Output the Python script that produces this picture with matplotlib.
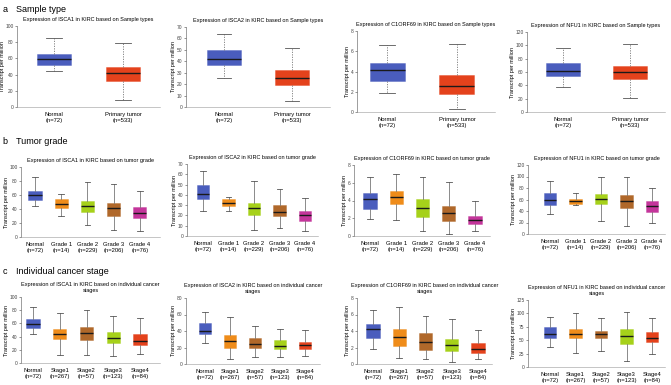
import matplotlib
matplotlib.use("Agg")
import matplotlib.pyplot as plt
import numpy as np

plt.rcParams['font.family'] = ['Liberation Sans', 'DejaVu Sans']

# box stats: [whisker low, q1, median, q3, whisker high]
sample_labels = ["Normal\n(n=72)", "Primary tumor\n(n=533)"]
grade_labels = ["Normal\n(n=72)", "Grade 1\n(n=14)", "Grade 2\n(n=229)", "Grade 3\n(n=206)", "Grade 4\n(n=76)"]
stage_labels = ["Normal\n(n=72)", "Stage1\n(n=267)", "Stage2\n(n=57)", "Stage3\n(n=123)", "Stage4\n(n=84)"]

isca1_sample = [[44, 52, 59, 65, 85], [9, 32, 42, 49, 79]]
isca2_sample = [[25, 36.4, 41.7, 50.3, 64], [5.5, 19.4, 25.2, 32, 52]]
c1orf69_sample = [[1.9, 3.06, 4.15, 4.87, 6.6], [0.33, 1.74, 2.57, 3.7, 6.7]]
nfu1_sample = [[37, 53.3, 61.3, 73.9, 95.5], [21, 49.7, 59.3, 69.3, 102]]

isca1_grade = [[44, 52.8, 60, 66, 86], [30.7, 42, 47, 55, 61], [17.5, 36.3, 44.3, 52, 78],
               [10.4, 30.7, 42, 49, 76.4], [8, 27, 34, 42.5, 66]]
isca2_grade = [[24.2, 35.7, 40.9, 49.7, 63.5], [24.2, 29.4, 32.4, 36, 38.3], [6.2, 20.9, 27.5, 32.4, 53.6],
               [7.9, 19.3, 22.9, 30, 45.5], [4.6, 15, 20.9, 24.2, 36.6]]
c1orf69_grade = [[1.88, 3.04, 4.17, 4.9, 6.6], [1.8, 3.6, 4.36, 5.07, 6.95], [0.6, 2.18, 3.12, 4.13, 6.7],
                 [0.23, 1.69, 2.63, 3.38, 6.13], [0.6, 1.35, 1.8, 2.26, 3.95]]
nfu1_grade = [[35, 51, 59, 72, 92], [50, 52, 58, 61, 72], [22, 52, 61, 70, 100],
              [14, 46, 57, 67, 100], [19, 37.5, 48, 57, 80]]

isca1_stage = [[44.4, 53, 59.6, 66, 85], [12.6, 36, 44, 51, 76], [12.6, 35, 46, 54.5, 81],
               [10.6, 30, 38, 47.5, 71], [14, 28, 33, 44, 68]]
isca2_stage = [[25, 36, 40.4, 50, 63], [6, 20, 28, 35, 57], [9, 20, 24, 32, 46],
               [8, 18, 22, 29, 43], [10, 18.4, 23, 27, 41]]
c1orf69_stage = [[1.84, 3.1, 4.2, 4.9, 6.6], [0.72, 2.24, 3.3, 4.2, 6.9], [0.64, 1.72, 2.64, 3.7, 5.84],
                 [0.24, 1.6, 2.3, 3.04, 5.5], [0.64, 1.32, 1.8, 2.5, 4.1]]
nfu1_stage = [[37, 54, 62, 74, 94], [27, 55, 62, 71, 100], [30, 54, 61, 68, 91],
              [12, 43, 58, 70.5, 102], [24, 46, 55, 65, 92]]

blue = "#4a5dbd"
red = "#e4421c"
orange = "#ef8c1a"
green = "#a6d11a"
brown = "#b0682a"
magenta = "#c4359b"

sample_colors = [blue, red]
grade_colors = [blue, orange, green, brown, magenta]
stage_colors = [blue, orange, brown, green, red]

W, H = 671, 385
fig = plt.figure(figsize=(W / 100, H / 100), dpi=100)

# panel layout in pixels: axis x, first category x, category spacing, right x, y of 0, y of top
panels = [
    # row a
    dict(stats=isca1_sample, labels=sample_labels, colors=sample_colors, gene="ISCA1", kind="Sample types",
         px=(17, 54, 69, 160, 107, 26), ymax=100, step=20, dashed=True),
    dict(stats=isca2_sample, labels=sample_labels, colors=sample_colors, gene="ISCA2", kind="Sample types",
         px=(186, 224, 68, 330, 107, 27), ymax=70, step=10, dashed=True),
    dict(stats=c1orf69_sample, labels=sample_labels, colors=sample_colors, gene="C1ORF69", kind="Sample types",
         px=(357, 387, 70, 495, 112, 31), ymax=8, step=2, dashed=True),
    dict(stats=nfu1_sample, labels=sample_labels, colors=sample_colors, gene="NFU1", kind="Sample types",
         px=(527, 563, 67, 665, 112, 32), ymax=120, step=20, dashed=True),
    # row b
    dict(stats=isca1_grade, labels=grade_labels, colors=grade_colors, gene="ISCA1", kind="tumor grade",
         px=(21, 35, 26.2, 160, 237, 167), ymax=100, step=20, dashed=False),
    dict(stats=isca2_grade, labels=grade_labels, colors=grade_colors, gene="ISCA2", kind="tumor grade",
         px=(187, 203, 25.5, 318, 236, 164), ymax=70, step=10, dashed=False),
    dict(stats=c1orf69_grade, labels=grade_labels, colors=grade_colors, gene="C1ORF69", kind="tumor grade",
         px=(354, 370, 26.25, 490, 236, 165), ymax=8, step=2, dashed=False),
    dict(stats=nfu1_grade, labels=grade_labels, colors=grade_colors, gene="NFU1", kind="tumor grade",
         px=(528, 550, 25.5, 665, 234, 165), ymax=120, step=20, dashed=False),
    # row c
    dict(stats=isca1_stage, labels=stage_labels, colors=stage_colors, gene="ISCA1", kind="individual cancer\nstages",
         px=(21, 33, 26.75, 160, 363, 297), ymax=100, step=20, dashed=False),
    dict(stats=isca2_stage, labels=stage_labels, colors=stage_colors, gene="ISCA2", kind="individual cancer\nstages",
         px=(186, 205, 25, 320, 364, 298), ymax=80, step=20, dashed=False),
    dict(stats=c1orf69_stage, labels=stage_labels, colors=stage_colors, gene="C1ORF69", kind="individual cancer\nstages",
         px=(357, 373, 26.25, 492, 364, 298), ymax=8, step=2, dashed=False),
    dict(stats=nfu1_stage, labels=stage_labels, colors=stage_colors, gene="NFU1", kind="individual cancer\nstages",
         px=(528, 550, 25.5, 665, 367, 300), ymax=125, step=25, dashed=False),
]

for p in panels:
    x0, c1, sp, xr, yb, yt = p["px"]
    ax = fig.add_axes([x0 / W, 1 - yb / H, (xr - x0) / W, (yb - yt) / H])
    n = len(p["stats"])
    pos = np.arange(1, n + 1)
    bstats = []
    for s in p["stats"]:
        bstats.append(dict(whislo=s[0], q1=s[1], med=s[2], q3=s[3], whishi=s[4], fliers=[]))
    ls = (0, (1.5, 1.5)) if p["dashed"] else "-"
    bp = ax.bxp(bstats, positions=pos, widths=0.5, patch_artist=True, showfliers=False,
                boxprops=dict(linewidth=0.6),
                medianprops=dict(color="#1a1a1a", linewidth=1.0),
                whiskerprops=dict(color="#777777", linewidth=0.6, linestyle=ls),
                capprops=dict(color="#555555", linewidth=0.6), capwidths=0.22)
    for patch, c in zip(bp["boxes"], p["colors"]):
        patch.set_facecolor(c)
        patch.set_edgecolor(matplotlib.colors.to_rgba(c, 0.45))
    ax.set_xlim(1 - (c1 - x0) / sp, 1 + (xr - c1) / sp)
    ax.set_ylim(0, p["ymax"])
    ax.set_yticks(np.arange(0, p["ymax"] + p["step"] / 2, p["step"]))
    ax.set_xticks(pos)
    ax.set_xticklabels(p["labels"], fontsize=4.2, linespacing=1.25)
    ax.tick_params(axis="x", length=0, pad=3.5)
    ax.tick_params(axis="y", labelsize=3.5, length=1.5, width=0.4, pad=1, colors="#444444")
    for sname in ["top", "right"]:
        ax.spines[sname].set_visible(False)
    ax.spines["left"].set_linewidth(0.4)
    ax.spines["bottom"].set_linewidth(0.4)
    ax.spines["left"].set_color("#555555")
    ax.spines["bottom"].set_color("#999999")
    ax.set_ylabel("Transcript per million", fontsize=4, labelpad=0.5)
    ax.set_title("Expression of %s in KIRC based on %s" % (p["gene"], p["kind"]),
                 fontsize=4, pad=3.5, linespacing=1.2)

fig.text(0.004, 1 - 10 / H, "a", fontsize=6.5, va="center")
fig.text(0.024, 1 - 10 / H, "Sample type", fontsize=6.5, va="center")
fig.text(0.004, 1 - 141 / H, "b", fontsize=6.5, va="center")
fig.text(0.024, 1 - 141 / H, "Tumor grade", fontsize=6.5, va="center")
fig.text(0.004, 1 - 271 / H, "c", fontsize=6.5, va="center")
fig.text(0.024, 1 - 271 / H, "Individual cancer stage", fontsize=6.5, va="center")

fig.savefig("out.png", dpi=100)
